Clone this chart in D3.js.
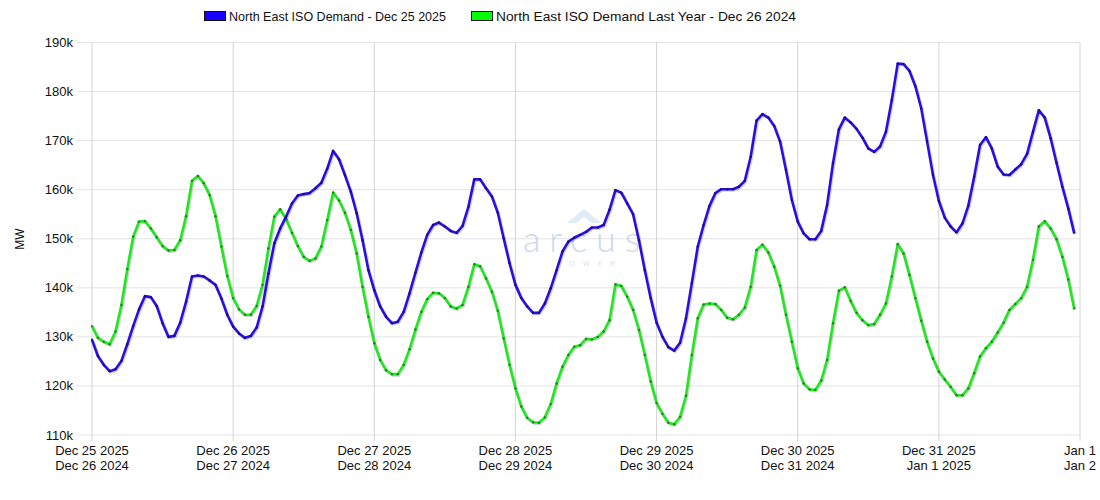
<!DOCTYPE html>
<html><head><meta charset="utf-8">
<script src="https://cdn.jsdelivr.net/npm/d3@7"></script>
<style>body{margin:0;background:#fff;}svg{display:block;font-family:"Liberation Sans",Arial,sans-serif;}</style>
</head><body>
<svg id="c" width="1100" height="500"></svg>
<script>
const seriesNames = ["North East ISO Demand - Dec 25 2025", "North East ISO Demand Last Year - Dec 26 2024"];
const seriesColors = ["#2a10e0", "#22e622"];
const markerColors = ["#160a70", "#1a6a1a"];
const xTickLine1 = ["Dec 25 2025","Dec 26 2025","Dec 27 2025","Dec 28 2025","Dec 29 2025","Dec 30 2025","Dec 31 2025","Jan 1"];
const xTickLine2 = ["Dec 26 2024","Dec 27 2024","Dec 28 2024","Dec 29 2024","Dec 30 2024","Dec 31 2024","Jan 1 2025","Jan 2"];
const yTicks = [110,120,130,140,150,160,170,180,190];
// hourly demand, thousands of MW
const demand2025 = [
129.4,126.1,124.3,123.0,123.4,125.1,128.5,132.2,135.6,138.3,138.1,136.3,132.8,130.0,130.2,132.9,137.2,142.3,142.5,142.3,141.5,140.6,137.8,134.5,
132.1,130.7,129.8,130.2,131.9,136.2,142.9,149.1,152.1,154.5,157.2,158.8,159.1,159.3,160.3,161.4,164.3,167.9,166.2,163.0,159.6,155.2,149.7,143.6,
139.5,136.2,134.1,132.8,133.1,135.1,138.9,143.1,147.2,150.8,152.8,153.3,152.5,151.6,151.2,152.6,156.5,162.1,162.1,160.3,158.6,155.3,150.1,145.0,
140.6,137.9,136.2,134.9,134.9,136.8,139.9,143.6,147.4,149.4,150.2,150.8,151.4,152.3,152.3,152.8,155.9,159.9,159.4,157.2,155.0,149.7,143.6,137.9,
132.9,130.0,127.9,127.2,128.8,133.8,141.0,148.4,152.8,156.7,159.3,160.1,160.1,160.1,160.6,161.8,166.7,174.1,175.4,174.7,173.0,169.8,164.0,157.9,
153.5,151.1,149.9,149.9,151.6,156.9,165.4,172.3,174.7,173.7,172.4,170.6,168.4,167.7,168.8,171.8,178.3,185.7,185.6,184.2,181.1,176.6,169.8,163.0,
157.7,154.3,152.5,151.3,153.1,156.7,162.6,169.1,170.7,168.4,164.7,163.1,163.0,164.1,165.2,167.3,171.8,176.2,174.7,170.5,165.5,160.6,156.2,151.2];
const demand2024 = [
132.2,129.8,129.0,128.5,131.1,136.5,143.8,150.4,153.5,153.6,152.1,150.3,148.5,147.6,147.7,149.7,154.6,161.8,162.8,161.3,158.9,154.6,148.4,142.4,
137.9,135.6,134.5,134.5,136.3,140.6,148.0,154.5,156.0,154.0,151.2,148.5,146.3,145.5,146.0,148.4,153.8,159.4,157.8,155.3,151.8,147.0,140.2,134.1,
128.7,125.3,123.2,122.4,122.4,124.3,127.5,131.5,135.1,137.7,139.0,138.9,137.9,136.2,135.8,136.5,140.2,144.8,144.4,141.9,139.2,135.3,129.7,124.3,
119.5,115.8,113.5,112.6,112.5,113.6,116.3,120.5,123.9,126.3,128.0,128.3,129.6,129.5,130.0,131.1,133.4,140.7,140.4,138.2,135.5,131.4,126.3,120.9,
116.5,114.3,112.5,112.2,113.7,118.0,126.3,133.8,136.6,136.8,136.7,135.5,133.9,133.6,134.5,136.0,140.2,147.7,148.8,147.2,144.3,140.4,134.5,129.0,
123.6,120.5,119.3,119.2,121.1,125.3,132.8,139.4,140.1,137.3,134.9,133.4,132.4,132.6,134.5,136.8,142.3,148.9,147.0,142.6,137.9,133.3,129.0,125.6,
122.9,121.3,119.8,118.1,118.1,119.5,122.6,126.0,127.7,129.0,130.9,132.9,135.5,136.7,137.9,140.2,145.7,152.5,153.6,152.1,149.9,146.3,141.7,135.8];

const svg = d3.select("#c");
const L = 92, R = 1080, T = 42.5, B = 435;
const x = d3.scaleLinear().domain([0, 168]).range([L, R]);
const y = d3.scaleLinear().domain([110, 190]).range([B, T]);
const dayTicks = d3.range(0, 169, 24);

// horizontal grid
svg.append("g").selectAll("line").data(yTicks).join("line")
  .attr("x1", L - 15).attr("x2", R).attr("y1", d => y(d)).attr("y2", d => y(d))
  .attr("stroke", "#e3e3e3").attr("stroke-width", 1);
// vertical grid
svg.append("g").selectAll("line").data(dayTicks).join("line")
  .attr("x1", d => x(d)).attr("x2", d => x(d)).attr("y1", T).attr("y2", B + 6)
  .attr("stroke", "#d4d4d4").attr("stroke-width", 1);
// y labels
svg.append("g").selectAll("text").data(yTicks).join("text")
  .attr("x", L - 19).attr("y", d => y(d) + 4.5).attr("text-anchor", "end")
  .attr("font-size", 13).attr("fill", "#111").text(d => d + "k");
// x labels
const xl = svg.append("g").selectAll("g").data(dayTicks).join("g");
xl.append("text").attr("x", d => x(d)).attr("y", 455).attr("text-anchor", "middle")
  .attr("font-size", 13).attr("fill", "#111").text((d, i) => xTickLine1[i]);
xl.append("text").attr("x", d => x(d)).attr("y", 470).attr("text-anchor", "middle")
  .attr("font-size", 13).attr("fill", "#111").text((d, i) => xTickLine2[i]);
// y title
svg.append("text").attr("transform", "translate(24,239) rotate(-90)").attr("text-anchor", "middle")
  .attr("font-size", 12).attr("fill", "#111").text("MW");

// watermark
const wm = svg.append("g").attr("opacity", 0.7);
wm.append("path").attr("d", "M567,223 L584,209 L601,223 L592,223 L584,217 L576,223 Z").attr("fill", "#cfe5f1");
wm.append("text").attr("x", 586).attr("y", 252).attr("text-anchor", "middle").attr("font-size", 36)
  .attr("font-weight", 300).attr("letter-spacing", 9).attr("fill", "#b3cbe6").attr("font-family", "Lato, sans-serif").text("arcus");
wm.append("text").attr("x", 590).attr("y", 266).attr("text-anchor", "middle").attr("font-size", 7)
  .attr("letter-spacing", 8).attr("fill", "#c3d7ea").text("POWER");

// lines
const series = [demand2025, demand2024];
const line = d3.line().x((d, i) => x(i)).y(d => y(d));
[1, 0].forEach(k => {
  const g = svg.append("g");
  g.append("path").datum(series[k]).attr("d", line).attr("fill", "none")
    .attr("stroke", "rgba(0,0,0,0.18)").attr("stroke-width", 3).attr("transform", "translate(1,1)");
  g.append("path").datum(series[k]).attr("d", line).attr("fill", "none")
    .attr("stroke", seriesColors[k]).attr("stroke-width", 2.6).attr("stroke-linejoin", "round");
  g.selectAll("circle").data(series[k]).join("circle")
    .attr("cx", (d, i) => x(i)).attr("cy", d => y(d)).attr("r", 1.2).attr("fill", markerColors[k]).attr("opacity", 0.8);
});

// legend
const legX = [204, 471];
const legW = [217, 300];
const lg = svg.append("g").selectAll("g").data(seriesNames).join("g");
lg.append("rect").attr("x", (d, i) => legX[i] + 0.5).attr("y", 11.5).attr("width", 21).attr("height", 9)
  .attr("fill", (d, i) => i === 0 ? "#1a00ff" : "#00ff00").attr("stroke", "#111").attr("stroke-width", 1);
lg.append("text").attr("x", (d, i) => legX[i] + 25).attr("y", 20.5).attr("font-size", 13).attr("fill", "#111")
  .attr("textLength", (d, i) => legW[i]).attr("lengthAdjust", "spacingAndGlyphs").text(d => d);
</script>
</body></html>
